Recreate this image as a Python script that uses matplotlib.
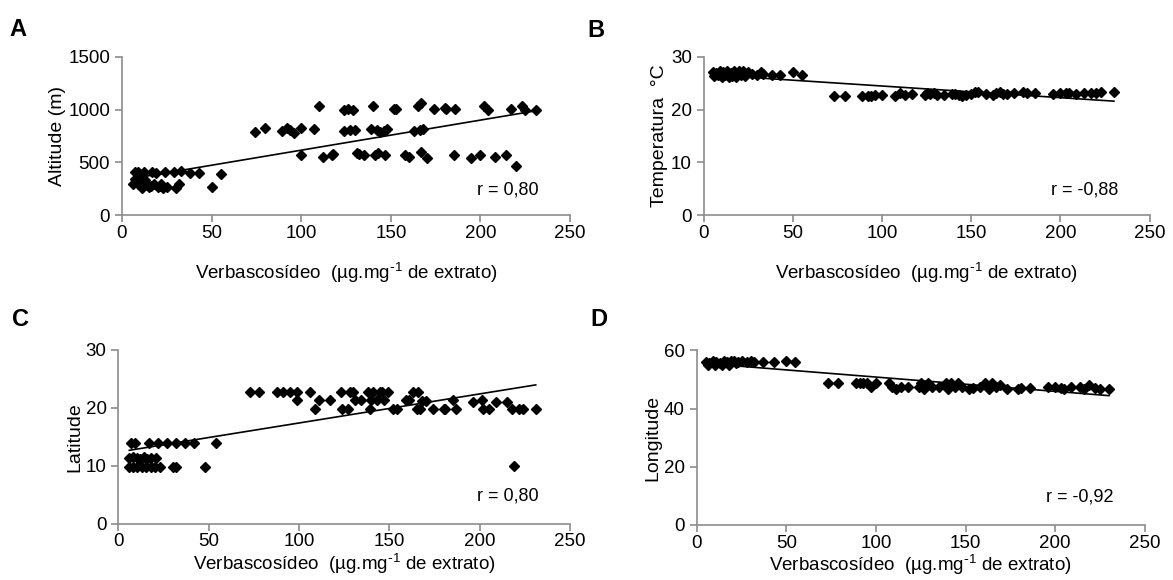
import matplotlib.pyplot as plt
import numpy as np

plt.rcParams['font.family'] = ['Liberation Sans', 'DejaVu Sans']
plt.rcParams['mathtext.default'] = 'regular'

# A - altitude
alt_x = [6, 7, 8, 9, 10, 11, 12, 13, 14, 15, 17, 18, 19, 20, 22, 23, 24, 25, 29, 30,
         32, 33, 38, 43, 50, 55, 7, 9, 11, 16, 21,
         74, 80, 89, 92, 94, 96, 100, 100, 107, 110, 112, 117, 118, 124, 124, 126, 127,
         129, 130, 131, 132, 135, 139, 140, 141, 142, 143, 144, 146, 147, 148, 152, 153,
         158, 160, 163, 165, 166, 167, 167, 168, 170, 174, 180, 181, 185, 186, 195, 200,
         202, 204, 208, 214, 217, 220, 223, 225, 231]
alt_y = [300, 410, 340, 410, 300, 260, 410, 330, 290, 270, 410, 300, 400, 270, 300, 260, 410, 270, 410, 260,
         300, 420, 400, 400, 270, 390, 340, 300, 350, 280, 280,
         785, 830, 800, 830, 810, 780, 830, 570, 815, 1030, 555, 570, 580, 800, 1000, 1010, 810,
         1000, 810, 590, 580, 570, 815, 1030, 570, 810, 590, 790, 800, 570, 820, 1010, 1010,
         570, 550, 800, 1030, 810, 1060, 600, 820, 540, 1010, 1020, 1010, 570, 1010, 540, 570,
         1030, 1000, 550, 570, 1010, 470, 1030, 1000, 1000]

# B - temperatura
temp_x = [5, 6, 7, 8, 9, 10, 11, 12, 13, 14, 15, 16, 17, 18, 19, 20, 21, 22, 23, 25,
          27, 30, 32, 33, 38, 43, 50, 55,
          73, 79, 89, 92, 94, 96, 100, 107, 110, 113, 117, 124, 125, 127, 129, 131, 135,
          139, 141, 143, 145, 147, 150, 152, 154, 158, 162, 164, 166, 168, 170, 174, 179,
          181, 186, 196, 200, 203, 205, 209, 213, 217, 220, 223, 230]
temp_y = [27.2, 26.3, 27.0, 26.5, 27.3, 26.2, 27.1, 26.6, 27.3, 26.2, 27.0, 26.4, 27.3, 26.2, 27.0, 27.3, 26.6, 27.3, 26.3, 27.1,
          26.8, 26.6, 27.2, 26.7, 26.6, 26.6, 27.2, 26.5,
          22.6, 22.6, 22.6, 22.6, 22.6, 22.7, 22.8, 22.6, 23.2, 22.8, 22.9, 22.7, 23.2, 22.9, 23.1, 22.7, 22.8,
          22.9, 23.0, 22.7, 22.6, 22.8, 22.9, 23.3, 23.3, 22.9, 22.8, 23.2, 23.3, 22.9, 23.0, 23.2, 23.3,
          23.1, 23.1, 22.9, 23.2, 23.2, 23.1, 23.0, 23.1, 23.1, 23.2, 23.3, 23.3]

# C - latitude
lat_x = [7, 9, 17, 22, 27, 32, 37, 42, 54,
         6, 8, 10, 12, 14, 16, 18, 21,
         6, 8, 10, 13, 15, 18, 20, 23, 30, 32, 48,
         73, 78, 88, 91, 95, 99, 99, 106, 109, 111, 117, 123, 124, 127, 128, 130, 131, 134,
         138, 139, 140, 141, 143, 145, 146, 147, 149, 152, 154, 159, 161, 163, 165, 166, 167,
         168, 170, 174, 180, 181, 185, 187, 196, 201, 202, 205, 209, 215, 218, 219, 222, 224, 231]
lat_y = [14, 14, 14, 14, 14, 14, 14, 14, 14,
         11.3, 11.5, 11.3, 11.2, 11.5, 11.2, 11.4, 11.4,
         9.8, 9.8, 9.8, 9.8, 9.8, 9.8, 9.8, 9.8, 9.8, 9.8, 9.8,
         22.7, 22.7, 22.7, 22.7, 22.7, 22.7, 21.4, 22.7, 19.7, 21.4, 21.4, 22.7, 19.7, 19.7, 22.7, 22.7, 21.4, 21.4,
         22.7, 19.7, 21.4, 22.7, 21.4, 22.7, 22.7, 21.4, 22.7, 19.7, 19.7, 21.4, 21.4, 22.7, 19.7, 22.7, 19.7,
         21.2, 21.2, 19.7, 19.7, 19.7, 21.4, 19.7, 21.0, 21.4, 19.7, 19.7, 21.0, 21.0, 19.7, 10.0, 19.7, 19.7, 19.7]

# D - longitude
lon_x = [5, 7, 9, 11, 13, 15, 17, 19, 21, 23, 25, 28, 30, 32, 37, 43, 50, 55,
         6, 10, 14, 18, 22,
         73, 79, 89, 91, 93, 95, 97, 100, 107, 109, 111, 114, 118, 124, 125, 127, 129, 131,
         135, 139, 140, 142, 144, 146, 148, 152, 154, 158, 161, 163, 165, 167, 169, 173, 179,
         181, 186, 196, 200, 203, 205, 209, 214, 216, 219, 222, 225, 230]
lon_y = [56, 55.5, 56.5, 56, 55.5, 56.5, 56, 56.5, 56.5, 56, 56.5, 56, 56.5, 56, 56, 56, 56.5, 56,
         55, 55, 55, 55, 55.5,
         48.7, 48.7, 48.7, 48.7, 48.7, 48.7, 47.5, 48.7, 48.7, 47.5, 46.8, 47.5, 47.5, 47.5, 48.7, 46.8, 48.7, 47.5,
         47.5, 48.7, 46.8, 48.7, 47.5, 48.7, 47.5, 46.8, 47.0, 47.5, 48.7, 46.8, 48.7, 47.5, 48.0, 46.8, 46.8,
         47.0, 47.0, 47.5, 47.5, 47.0, 46.8, 47.5, 47.5, 46.8, 48.0, 47.0, 46.8, 46.8]

panels = [
    ('A', alt_x, alt_y, 'Altitude (m)', 1500, 500, 'r = 0,80'),
    ('B', temp_x, temp_y, 'Temperatura  °C', 30, 10, 'r = -0,88'),
    ('C', lat_x, lat_y, 'Latitude', 30, 10, 'r = 0,80'),
    ('D', lon_x, lon_y, 'Longitude', 60, 20, 'r = -0,92'),
]
boxes = [
    [0.104, 0.629, 0.382, 0.273],
    [0.600, 0.629, 0.380, 0.273],
    [0.101, 0.097, 0.385, 0.300],
    [0.594, 0.095, 0.382, 0.301],
]
letter_pos = [(0.008, 0.950), (0.501, 0.948), (0.010, 0.450), (0.503, 0.450)]
xlabel_pad = [14, 14, 1, 1]

fig = plt.figure(figsize=(11.73, 5.80), dpi=100)

for (letter, xs, ys, ylab, ymax, ystep, rtxt), box, lp, lpad in zip(panels, boxes, letter_pos, xlabel_pad):
    ax = fig.add_axes(box)
    ax.plot(xs, ys, linestyle='none', marker='D', markersize=5, color='black')
    k, b = np.polyfit(xs, ys, 1)
    xl = np.array([min(xs), max(xs)])
    ax.plot(xl, k * xl + b, color='black', linewidth=1.2)
    ax.set_xlim(0, 250)
    ax.set_ylim(0, ymax)
    ax.set_xticks(np.arange(0, 251, 50))
    ax.set_yticks(np.arange(0, ymax + 1, ystep))
    for s in ['top', 'right']:
        ax.spines[s].set_visible(False)
    for s in ['left', 'bottom']:
        ax.spines[s].set_color('#8c8c8c')
        ax.spines[s].set_linewidth(1.2)
    ax.tick_params(axis='both', colors='#8c8c8c', labelcolor='black', labelsize=13.5,
                   length=5, width=1.2, direction='out')
    ax.tick_params(axis='x', pad=2)
    ax.set_xlabel('Verbascosídeo  (µg.mg$^{\\text{-}1}$ de extrato)', fontsize=13.5, labelpad=lpad)
    ax.set_ylabel(ylab, fontsize=14, labelpad=2)
    ax.text(0.93, 0.16, rtxt, transform=ax.transAxes, ha='right', va='center', fontsize=13)
    fig.text(lp[0], lp[1], letter, fontsize=17, fontweight='bold', ha='left', va='center')

fig.savefig('out.png', dpi=100)
